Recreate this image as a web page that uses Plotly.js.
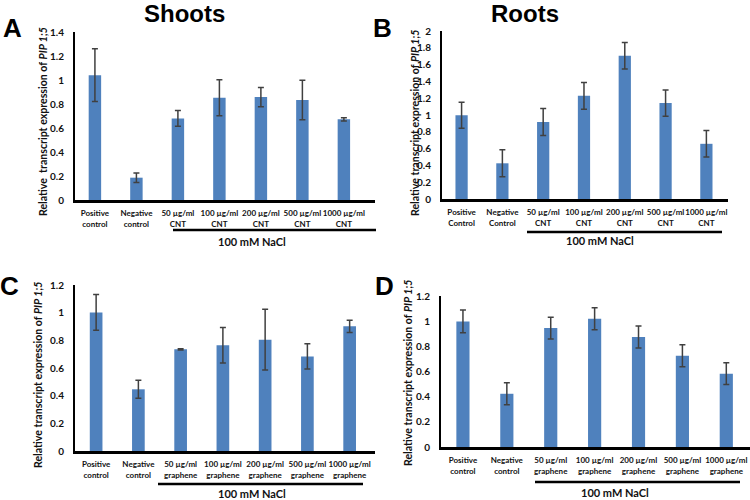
<!DOCTYPE html>
<html><head><meta charset="utf-8">
<script src="https://cdn.plot.ly/plotly-3.0.1.min.js"></script>
<style>html,body{margin:0;padding:0;background:#fff}</style>
</head><body><div id="chart" style="width:750px;height:500px"></div>
<script>
// Categories
const catsShoots = ["Positive<br>control","Negative<br>control","50 µg/ml<br>CNT","100 µg/ml<br>CNT","200 µg/ml<br>CNT","500 µg/ml<br>CNT","1000 µg/ml<br>CNT"];
const catsRoots = ["Positive<br>Control","Negative<br>Control","50 µg/ml<br>CNT","100 µg/ml<br>CNT","200 µg/ml<br>CNT","500 µg/ml<br>CNT","1000 µg/ml<br>CNT"];
const catsGraphene = ["Positive<br>control","Negative<br>control","50 µg/ml<br>graphene","100 µg/ml<br>graphene","200 µg/ml<br>graphene","500 µg/ml<br>graphene","1000 µg/ml<br>graphene"];
// Values and errors
const valA = [1.04, 0.186, 0.68, 0.853, 0.858, 0.833, 0.672];
const errA = [0.22, 0.04, 0.065, 0.15, 0.08, 0.165, 0.014];
const valB = [0.996, 0.425, 0.917, 1.228, 1.705, 1.142, 0.657];
const errB = [0.155, 0.16, 0.16, 0.16, 0.157, 0.157, 0.157];
const valC = [1.002, 0.446, 0.735, 0.764, 0.805, 0.684, 0.901];
const errC = [0.13, 0.065, 0.005, 0.128, 0.22, 0.092, 0.044];
const valD = [0.998, 0.423, 0.945, 1.019, 0.874, 0.725, 0.583];
const errD = [0.09, 0.087, 0.087, 0.087, 0.087, 0.087, 0.087];
// Text
const panelTitles = ["Shoots", "Roots"];
const panelLetters = ["A", "B", "C", "D"];
const yTitleA = "Relative  transcript expression of <i>PIP 1;5</i>";
const yTitle = "Relative transcript expression of <i>PIP 1;5</i>";
const saltLabel = "100 mM NaCl";

const BAR = "#4F81BD", ERR = "#404040";
function bars(x, y, e, xa, ya) {
  return {type: "bar", x: x, y: y, xaxis: xa, yaxis: ya, width: 0.3,
    marker: {color: BAR, line: {width: 0}},
    error_y: {type: "data", array: e, visible: true, color: ERR, thickness: 1.5, width: 3},
    hoverinfo: "skip", showlegend: false};
}
const data = [
  bars(catsShoots, valA, errA, "x", "y"),
  bars(catsRoots, valB, errB, "x2", "y2"),
  bars(catsGraphene, valC, errC, "x3", "y3"),
  bars(catsGraphene, valD, errD, "x4", "y4")
];
const W = 750, H = 500;
const px = v => v / W, py = v => 1 - v / H;
const FAM = "Lato, 'Liberation Sans', sans-serif";
const tickF = {family: FAM, size: 10, color: "#111", weight: 700};
const catF = {family: FAM, size: 8, color: "#111", weight: 700};
function xax(dom, rng, anchor) {
  return {domain: dom, range: rng, anchor: anchor, type: "category", showline: true, linecolor: "#000", linewidth: 2.5,
    ticks: "", showgrid: false, zeroline: false, tickfont: catF, tickangle: 0, ticklabelstandoff: 4, fixedrange: true};
}
function yax(dom, rng, anchor) {
  return {domain: dom, range: rng, anchor: anchor, dtick: 0.2, tick0: 0, showline: true, linecolor: "#000", linewidth: 2,
    ticks: "", showgrid: false, zeroline: false, tickfont: tickF, ticklabelstandoff: 7, fixedrange: true};
}
const letterF = {family: "'Liberation Sans', Arial, sans-serif", size: 26, color: "#000", weight: 700};
const titleF = {family: "'Liberation Sans', Arial, sans-serif", size: 24, color: "#000", weight: 700};
const ytF = {family: FAM, size: 10.6, color: "#111", weight: 700};
const saltF = {family: FAM, size: 11, color: "#111", weight: 700};
function ann(text, x, y, font, extra) {
  return Object.assign({text: text, x: px(x), y: py(y), xref: "paper", yref: "paper", showarrow: false,
    xanchor: "center", yanchor: "middle", font: font}, extra || {});
}
const layout = {
  width: W, height: H, margin: {l: 0, r: 0, t: 0, b: 0}, paper_bgcolor: "#fff", plot_bgcolor: "#fff",
  bargap: 0.7, showlegend: false,
  xaxis: xax([px(75), px(375)], [-0.48, 6.75], "y"),
  yaxis: yax([py(200), py(32)], [0, 1.4], "x"),
  xaxis2: xax([px(442), px(728)], [-0.48, 6.53], "y2"),
  yaxis2: yax([py(199), py(31)], [0, 2], "x2"),
  xaxis3: xax([px(75), px(375)], [-0.5, 6.6], "y3"),
  yaxis3: yax([py(451), py(285)], [0, 1.2], "x3"),
  xaxis4: xax([px(441), 1], [-0.5, 6.54], "y4"),
  yaxis4: yax([py(447), py(296)], [0, 1.2], "x4"),
  annotations: [
    ann(panelTitles[0], 184, 13, titleF),
    ann(panelTitles[1], 525, 13, titleF),
    ann(panelLetters[0], 12.5, 27.5, letterF),
    ann(panelLetters[1], 382.5, 28, letterF),
    ann(panelLetters[2], 9, 286, letterF),
    ann(panelLetters[3], 384, 286, letterF),
    ann(yTitleA, 43, 122, ytF, {textangle: -90}),
    ann(yTitle, 415, 123, ytF, {textangle: -90}),
    ann(yTitle, 38, 375, ytF, {textangle: -90}),
    ann(yTitle, 408, 373, ytF, {textangle: -90}),
    ann(saltLabel, 252, 241, saltF),
    ann(saltLabel, 600, 240, saltF),
    ann(saltLabel, 252, 493, saltF),
    ann(saltLabel, 615, 492, saltF)
  ],
  shapes: [
    {type: "line", xref: "paper", yref: "paper", x0: px(173), x1: px(376), y0: py(230), y1: py(230), line: {color: "#000", width: 2.5}},
    {type: "line", xref: "paper", yref: "paper", x0: px(527), x1: px(722), y0: py(232), y1: py(232), line: {color: "#000", width: 2.5}},
    {type: "line", xref: "paper", yref: "paper", x0: px(158), x1: px(363), y0: py(484), y1: py(484), line: {color: "#000", width: 2.5}},
    {type: "line", xref: "paper", yref: "paper", x0: px(535), x1: px(740), y0: py(482), y1: py(482), line: {color: "#000", width: 2.5}}
  ]
};
Plotly.newPlot("chart", data, layout, {displayModeBar: false, staticPlot: true});
</script></body></html>
